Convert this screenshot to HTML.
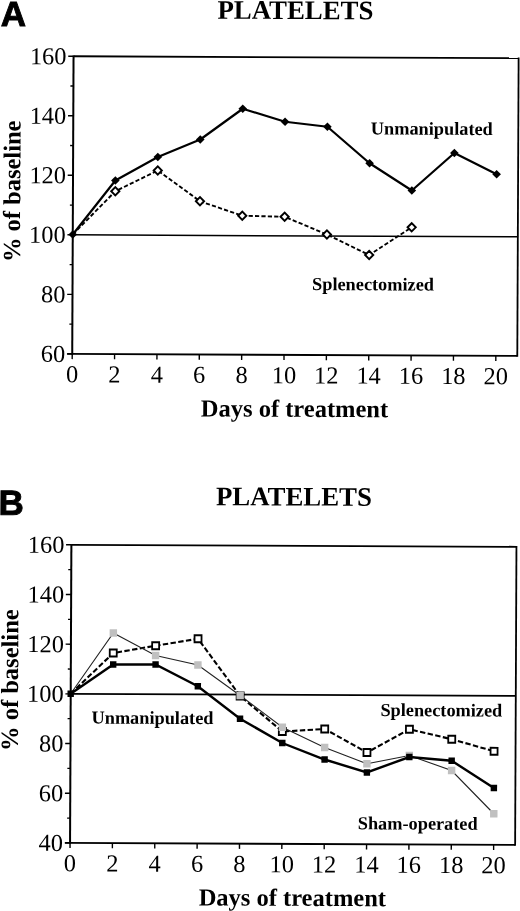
<!DOCTYPE html>
<html><head><meta charset="utf-8"><title>Platelets</title>
<style>
html,body{margin:0;padding:0;background:#fff;}
svg{display:block;}
text{font-family:"Liberation Serif","Times New Roman",serif;fill:#000;}
.num{font-size:24.4px;}
.b24{font-size:24.5px;font-weight:bold;}
.b18{font-size:18.3px;font-weight:bold;}
.title{font-size:26.8px;font-weight:bold;}
.panel{font-family:"Liberation Sans",Arial,sans-serif;font-weight:bold;font-size:35px;stroke:#000;stroke-width:0.9px;stroke-linejoin:miter;}
</style></head><body>
<svg width="520" height="911" viewBox="0 0 520 911">
<rect width="520" height="911" fill="#fff"/>
<g transform="rotate(0.255)">
<text x="295.44" y="17.7" text-anchor="middle" class="title">PLATELETS</text>
<text x="0.9" y="26.1" class="panel">A</text>
<line x1="73.80" y1="55.90" x2="518.88" y2="55.90" stroke="#000" stroke-width="1.8"/>
<line x1="518.88" y1="55.10" x2="518.88" y2="354.50" stroke="#000" stroke-width="1.8"/>
<line x1="73.80" y1="55.20" x2="73.80" y2="354.50" stroke="#000" stroke-width="2"/>
<line x1="68.80" y1="353.60" x2="518.88" y2="353.60" stroke="#000" stroke-width="1.9"/>
<line x1="73.80" y1="234.52" x2="518.88" y2="234.52" stroke="#000" stroke-width="1.5"/>
<line x1="68.50" y1="55.90" x2="73.80" y2="55.90" stroke="#000" stroke-width="1.4"/>
<text x="66.80" y="64.00" text-anchor="end" class="num">160</text>
<line x1="70.80" y1="85.67" x2="73.80" y2="85.67" stroke="#000" stroke-width="1.3"/>
<line x1="68.50" y1="115.44" x2="73.80" y2="115.44" stroke="#000" stroke-width="1.4"/>
<text x="66.80" y="123.54" text-anchor="end" class="num">140</text>
<line x1="70.80" y1="145.21" x2="73.80" y2="145.21" stroke="#000" stroke-width="1.3"/>
<line x1="68.50" y1="174.98" x2="73.80" y2="174.98" stroke="#000" stroke-width="1.4"/>
<text x="66.80" y="183.08" text-anchor="end" class="num">120</text>
<line x1="70.80" y1="204.75" x2="73.80" y2="204.75" stroke="#000" stroke-width="1.3"/>
<line x1="68.50" y1="234.52" x2="73.80" y2="234.52" stroke="#000" stroke-width="1.4"/>
<text x="66.80" y="242.62" text-anchor="end" class="num">100</text>
<line x1="70.80" y1="264.29" x2="73.80" y2="264.29" stroke="#000" stroke-width="1.3"/>
<line x1="68.50" y1="294.06" x2="73.80" y2="294.06" stroke="#000" stroke-width="1.4"/>
<text x="66.80" y="302.16" text-anchor="end" class="num">80</text>
<line x1="70.80" y1="323.83" x2="73.80" y2="323.83" stroke="#000" stroke-width="1.3"/>
<line x1="68.50" y1="353.60" x2="73.80" y2="353.60" stroke="#000" stroke-width="1.4"/>
<text x="66.80" y="361.70" text-anchor="end" class="num">60</text>
<line x1="73.80" y1="353.60" x2="73.80" y2="358.80" stroke="#000" stroke-width="1.4"/>
<text x="73.80" y="382.00" text-anchor="middle" class="num">0</text>
<line x1="116.16" y1="353.60" x2="116.16" y2="358.80" stroke="#000" stroke-width="1.4"/>
<text x="116.16" y="382.00" text-anchor="middle" class="num">2</text>
<line x1="158.52" y1="353.60" x2="158.52" y2="358.80" stroke="#000" stroke-width="1.4"/>
<text x="158.52" y="382.00" text-anchor="middle" class="num">4</text>
<line x1="200.88" y1="353.60" x2="200.88" y2="358.80" stroke="#000" stroke-width="1.4"/>
<text x="200.88" y="382.00" text-anchor="middle" class="num">6</text>
<line x1="243.24" y1="353.60" x2="243.24" y2="358.80" stroke="#000" stroke-width="1.4"/>
<text x="243.24" y="382.00" text-anchor="middle" class="num">8</text>
<line x1="285.60" y1="353.60" x2="285.60" y2="358.80" stroke="#000" stroke-width="1.4"/>
<text x="285.60" y="382.00" text-anchor="middle" class="num">10</text>
<line x1="327.96" y1="353.60" x2="327.96" y2="358.80" stroke="#000" stroke-width="1.4"/>
<text x="327.96" y="382.00" text-anchor="middle" class="num">12</text>
<line x1="370.32" y1="353.60" x2="370.32" y2="358.80" stroke="#000" stroke-width="1.4"/>
<text x="370.32" y="382.00" text-anchor="middle" class="num">14</text>
<line x1="412.68" y1="353.60" x2="412.68" y2="358.80" stroke="#000" stroke-width="1.4"/>
<text x="412.68" y="382.00" text-anchor="middle" class="num">16</text>
<line x1="455.04" y1="353.60" x2="455.04" y2="358.80" stroke="#000" stroke-width="1.4"/>
<text x="455.04" y="382.00" text-anchor="middle" class="num">18</text>
<line x1="497.40" y1="353.60" x2="497.40" y2="358.80" stroke="#000" stroke-width="1.4"/>
<text x="497.40" y="382.00" text-anchor="middle" class="num">20</text>
<text x="296.34" y="415.50" text-anchor="middle" class="b24">Days of treatment</text>
<text transform="translate(21.1,191.25) rotate(-90)" text-anchor="middle" class="b24">% of baseline</text>
<polyline points="73.80,234.18 116.16,190.73 158.52,169.80 200.88,200.36 243.24,214.67 285.60,215.48 327.96,233.04 370.32,253.35 412.68,225.47" fill="none" stroke="#000" stroke-width="1.9" stroke-dasharray="4.2 2.2"/>
<polyline points="73.80,234.18 116.16,179.98 158.52,156.30 200.88,138.61 243.24,107.67 285.60,120.48 327.96,125.29 370.32,161.60 412.68,188.67 455.04,150.98 497.40,171.99" fill="none" stroke="#000" stroke-width="2.2" stroke-linejoin="round"/>
<path d="M112.06,190.73 L116.16,186.63 L120.26,190.73 L116.16,194.83Z" fill="#fff" stroke="#000" stroke-width="1.9"/>
<path d="M154.42,169.80 L158.52,165.70 L162.62,169.80 L158.52,173.90Z" fill="#fff" stroke="#000" stroke-width="1.9"/>
<path d="M196.78,200.36 L200.88,196.26 L204.98,200.36 L200.88,204.46Z" fill="#fff" stroke="#000" stroke-width="1.9"/>
<path d="M239.14,214.67 L243.24,210.57 L247.34,214.67 L243.24,218.77Z" fill="#fff" stroke="#000" stroke-width="1.9"/>
<path d="M281.50,215.48 L285.60,211.38 L289.70,215.48 L285.60,219.58Z" fill="#fff" stroke="#000" stroke-width="1.9"/>
<path d="M323.86,233.04 L327.96,228.94 L332.06,233.04 L327.96,237.14Z" fill="#fff" stroke="#000" stroke-width="1.9"/>
<path d="M366.22,253.35 L370.32,249.25 L374.42,253.35 L370.32,257.45Z" fill="#fff" stroke="#000" stroke-width="1.9"/>
<path d="M408.58,225.47 L412.68,221.37 L416.78,225.47 L412.68,229.57Z" fill="#fff" stroke="#000" stroke-width="1.9"/>
<path d="M69.50,234.18 L73.80,229.88 L78.10,234.18 L73.80,238.48Z" fill="#000"/>
<path d="M111.86,179.98 L116.16,175.68 L120.46,179.98 L116.16,184.28Z" fill="#000"/>
<path d="M154.22,156.30 L158.52,152.00 L162.82,156.30 L158.52,160.60Z" fill="#000"/>
<path d="M196.58,138.61 L200.88,134.31 L205.18,138.61 L200.88,142.91Z" fill="#000"/>
<path d="M238.94,107.67 L243.24,103.37 L247.54,107.67 L243.24,111.97Z" fill="#000"/>
<path d="M281.30,120.48 L285.60,116.18 L289.90,120.48 L285.60,124.78Z" fill="#000"/>
<path d="M323.66,125.29 L327.96,120.99 L332.26,125.29 L327.96,129.59Z" fill="#000"/>
<path d="M366.02,161.60 L370.32,157.30 L374.62,161.60 L370.32,165.90Z" fill="#000"/>
<path d="M408.38,188.67 L412.68,184.37 L416.98,188.67 L412.68,192.97Z" fill="#000"/>
<path d="M450.74,150.98 L455.04,146.68 L459.34,150.98 L455.04,155.28Z" fill="#000"/>
<path d="M493.10,171.99 L497.40,167.69 L501.70,171.99 L497.40,176.29Z" fill="#000"/>
<text x="432.4" y="132.8" text-anchor="middle" class="b18">Unmanipulated</text>
<text x="374.3" y="288.7" text-anchor="middle" class="b18">Splenectomized</text>
<text x="296.14" y="504.2" text-anchor="middle" class="title">PLATELETS</text>
<text x="0.7" y="514.8" class="panel">B</text>
<line x1="73.80" y1="544.50" x2="518.88" y2="544.50" stroke="#000" stroke-width="1.8"/>
<line x1="518.88" y1="543.70" x2="518.88" y2="843.50" stroke="#000" stroke-width="1.8"/>
<line x1="73.80" y1="543.80" x2="73.80" y2="843.50" stroke="#000" stroke-width="2"/>
<line x1="68.80" y1="842.60" x2="518.88" y2="842.60" stroke="#000" stroke-width="1.9"/>
<line x1="73.80" y1="693.55" x2="518.88" y2="693.55" stroke="#000" stroke-width="1.75"/>
<line x1="68.50" y1="544.50" x2="73.80" y2="544.50" stroke="#000" stroke-width="1.4"/>
<text x="66.80" y="552.60" text-anchor="end" class="num">160</text>
<line x1="70.80" y1="569.34" x2="73.80" y2="569.34" stroke="#000" stroke-width="1.3"/>
<line x1="68.50" y1="594.18" x2="73.80" y2="594.18" stroke="#000" stroke-width="1.4"/>
<text x="66.80" y="602.28" text-anchor="end" class="num">140</text>
<line x1="70.80" y1="619.02" x2="73.80" y2="619.02" stroke="#000" stroke-width="1.3"/>
<line x1="68.50" y1="643.87" x2="73.80" y2="643.87" stroke="#000" stroke-width="1.4"/>
<text x="66.80" y="651.97" text-anchor="end" class="num">120</text>
<line x1="70.80" y1="668.71" x2="73.80" y2="668.71" stroke="#000" stroke-width="1.3"/>
<line x1="68.50" y1="693.55" x2="73.80" y2="693.55" stroke="#000" stroke-width="1.4"/>
<text x="66.80" y="701.65" text-anchor="end" class="num">100</text>
<line x1="70.80" y1="718.39" x2="73.80" y2="718.39" stroke="#000" stroke-width="1.3"/>
<line x1="68.50" y1="743.23" x2="73.80" y2="743.23" stroke="#000" stroke-width="1.4"/>
<text x="66.80" y="751.33" text-anchor="end" class="num">80</text>
<line x1="70.80" y1="768.08" x2="73.80" y2="768.08" stroke="#000" stroke-width="1.3"/>
<line x1="68.50" y1="792.92" x2="73.80" y2="792.92" stroke="#000" stroke-width="1.4"/>
<text x="66.80" y="801.02" text-anchor="end" class="num">60</text>
<line x1="70.80" y1="817.76" x2="73.80" y2="817.76" stroke="#000" stroke-width="1.3"/>
<line x1="68.50" y1="842.60" x2="73.80" y2="842.60" stroke="#000" stroke-width="1.4"/>
<text x="66.80" y="850.70" text-anchor="end" class="num">40</text>
<line x1="73.80" y1="842.60" x2="73.80" y2="847.80" stroke="#000" stroke-width="1.4"/>
<text x="73.80" y="871.00" text-anchor="middle" class="num">0</text>
<line x1="116.16" y1="842.60" x2="116.16" y2="847.80" stroke="#000" stroke-width="1.4"/>
<text x="116.16" y="871.00" text-anchor="middle" class="num">2</text>
<line x1="158.52" y1="842.60" x2="158.52" y2="847.80" stroke="#000" stroke-width="1.4"/>
<text x="158.52" y="871.00" text-anchor="middle" class="num">4</text>
<line x1="200.88" y1="842.60" x2="200.88" y2="847.80" stroke="#000" stroke-width="1.4"/>
<text x="200.88" y="871.00" text-anchor="middle" class="num">6</text>
<line x1="243.24" y1="842.60" x2="243.24" y2="847.80" stroke="#000" stroke-width="1.4"/>
<text x="243.24" y="871.00" text-anchor="middle" class="num">8</text>
<line x1="285.60" y1="842.60" x2="285.60" y2="847.80" stroke="#000" stroke-width="1.4"/>
<text x="285.60" y="871.00" text-anchor="middle" class="num">10</text>
<line x1="327.96" y1="842.60" x2="327.96" y2="847.80" stroke="#000" stroke-width="1.4"/>
<text x="327.96" y="871.00" text-anchor="middle" class="num">12</text>
<line x1="370.32" y1="842.60" x2="370.32" y2="847.80" stroke="#000" stroke-width="1.4"/>
<text x="370.32" y="871.00" text-anchor="middle" class="num">14</text>
<line x1="412.68" y1="842.60" x2="412.68" y2="847.80" stroke="#000" stroke-width="1.4"/>
<text x="412.68" y="871.00" text-anchor="middle" class="num">16</text>
<line x1="455.04" y1="842.60" x2="455.04" y2="847.80" stroke="#000" stroke-width="1.4"/>
<text x="455.04" y="871.00" text-anchor="middle" class="num">18</text>
<line x1="497.40" y1="842.60" x2="497.40" y2="847.80" stroke="#000" stroke-width="1.4"/>
<text x="497.40" y="871.00" text-anchor="middle" class="num">20</text>
<text x="296.34" y="904.50" text-anchor="middle" class="b24">Days of treatment</text>
<text transform="translate(21.1,680.05) rotate(-90)" text-anchor="middle" class="b24">% of baseline</text>
<polyline points="73.80,693.43 116.16,652.49 158.52,645.05 200.88,637.86 243.24,694.92 285.60,730.24 327.96,727.55 370.32,750.86 412.68,727.42 455.04,737.23 497.40,749.05" fill="none" stroke="#000" stroke-width="2.1" stroke-dasharray="5.4 2.4"/>
<rect x="112.66" y="648.99" width="7.00" height="7.00" fill="#fff" stroke="#000" stroke-width="1.8"/>
<rect x="155.02" y="641.55" width="7.00" height="7.00" fill="#fff" stroke="#000" stroke-width="1.8"/>
<rect x="197.38" y="634.36" width="7.00" height="7.00" fill="#fff" stroke="#000" stroke-width="1.8"/>
<rect x="239.74" y="691.42" width="7.00" height="7.00" fill="#fff" stroke="#000" stroke-width="1.8"/>
<rect x="282.10" y="726.74" width="7.00" height="7.00" fill="#fff" stroke="#000" stroke-width="1.8"/>
<rect x="324.46" y="724.05" width="7.00" height="7.00" fill="#fff" stroke="#000" stroke-width="1.8"/>
<rect x="366.82" y="747.36" width="7.00" height="7.00" fill="#fff" stroke="#000" stroke-width="1.8"/>
<rect x="409.18" y="723.92" width="7.00" height="7.00" fill="#fff" stroke="#000" stroke-width="1.8"/>
<rect x="451.54" y="733.73" width="7.00" height="7.00" fill="#fff" stroke="#000" stroke-width="1.8"/>
<rect x="493.90" y="745.55" width="7.00" height="7.00" fill="#fff" stroke="#000" stroke-width="1.8"/>
<polyline points="73.80,693.43 116.16,632.49 158.52,654.80 200.88,664.11 243.24,694.42 285.60,725.99 327.96,746.05 370.32,762.11 412.68,753.67 455.04,768.48 497.40,811.54" fill="none" stroke="#222" stroke-width="1.1"/>
<rect x="112.46" y="628.79" width="7.40" height="7.40" fill="#c0c0c0"/>
<rect x="154.82" y="651.10" width="7.40" height="7.40" fill="#c0c0c0"/>
<rect x="197.18" y="660.41" width="7.40" height="7.40" fill="#c0c0c0"/>
<rect x="239.54" y="690.72" width="7.40" height="7.40" fill="#c0c0c0"/>
<rect x="281.90" y="722.29" width="7.40" height="7.40" fill="#c0c0c0"/>
<rect x="324.26" y="742.35" width="7.40" height="7.40" fill="#c0c0c0"/>
<rect x="366.62" y="758.41" width="7.40" height="7.40" fill="#c0c0c0"/>
<rect x="408.98" y="749.97" width="7.40" height="7.40" fill="#c0c0c0"/>
<rect x="451.34" y="764.78" width="7.40" height="7.40" fill="#c0c0c0"/>
<rect x="493.70" y="807.84" width="7.40" height="7.40" fill="#c0c0c0"/>
<polyline points="73.80,693.43 116.16,663.99 158.52,663.80 200.88,685.36 243.24,717.67 285.60,741.74 327.96,758.05 370.32,770.86 412.68,755.17 455.04,758.73 497.40,785.79" fill="none" stroke="#000" stroke-width="2.4" stroke-linejoin="miter"/>
<rect x="70.60" y="690.23" width="6.40" height="6.40" fill="#000"/>
<rect x="112.96" y="660.79" width="6.40" height="6.40" fill="#000"/>
<rect x="155.32" y="660.60" width="6.40" height="6.40" fill="#000"/>
<rect x="197.68" y="682.16" width="6.40" height="6.40" fill="#000"/>
<rect x="240.04" y="714.47" width="6.40" height="6.40" fill="#000"/>
<rect x="282.40" y="738.54" width="6.40" height="6.40" fill="#000"/>
<rect x="324.76" y="754.85" width="6.40" height="6.40" fill="#000"/>
<rect x="367.12" y="767.66" width="6.40" height="6.40" fill="#000"/>
<rect x="409.48" y="751.97" width="6.40" height="6.40" fill="#000"/>
<rect x="451.84" y="755.53" width="6.40" height="6.40" fill="#000"/>
<rect x="494.20" y="782.59" width="6.40" height="6.40" fill="#000"/>
<text x="155.7" y="723.2" text-anchor="middle" class="b18">Unmanipulated</text>
<text x="444.5" y="714.3" text-anchor="middle" class="b18">Splenectomized</text>
<text x="421.4" y="827.7" text-anchor="middle" class="b18">Sham-operated</text>
</g>
</svg>
</body></html>
